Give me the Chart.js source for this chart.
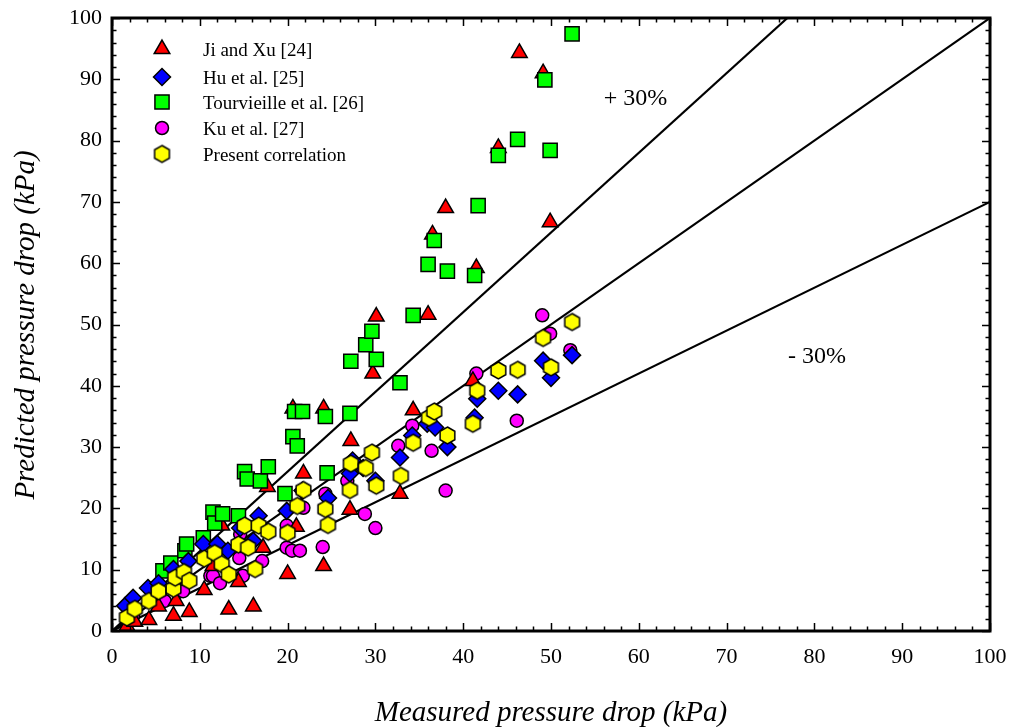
<!DOCTYPE html>
<html>
<head>
<meta charset="utf-8">
<title>Predicted vs measured pressure drop</title>
<script src="https://cdn.jsdelivr.net/npm/chart.js@4.4.1/dist/chart.umd.min.js"></script>
<style>
  html, body { margin: 0; padding: 0; background: #fff; }
  #chart { display: block; }
</style>
</head>
<body>
<canvas id="chart" width="1011" height="727"></canvas>
<script>
// measured pressure drop (x) / predicted pressure drop (y), kPa
const jiXuX = [1.7, 2.6, 4.2, 5.3, 7.0, 7.3, 8.8, 10.5, 11.5, 12.5, 13.3, 14.4, 16.1, 17.2, 17.7, 20.0, 20.6, 21.0, 21.8, 24.1, 24.1, 27.1, 27.2, 29.7, 30.1, 32.8, 34.3, 36.0, 36.5, 38.0, 41.1, 41.5, 44.0, 46.4, 49.1, 49.9];
const jiXuY = [0.8, 1.5, 1.8, 4.0, 2.5, 4.9, 3.1, 6.7, 10.6, 17.2, 3.5, 8.0, 4.0, 13.6, 23.5, 9.3, 36.3, 17.0, 25.7, 36.3, 10.6, 19.8, 31.0, 42.0, 51.3, 22.4, 36.0, 51.6, 64.7, 69.0, 40.8, 59.2, 78.8, 94.3, 91.0, 66.7];

const huX = [1.5, 2.4, 4.1, 5.3, 7.0, 8.7, 10.4, 12.0, 13.2, 14.6, 16.1, 16.7, 19.9, 21.7, 24.6, 27.1, 27.4, 28.6, 30.0, 32.8, 34.2, 35.9, 36.8, 38.2, 41.3, 41.6, 44.0, 46.2, 49.1, 50.0, 52.4];
const huY = [4.1, 5.4, 7.0, 7.8, 10.1, 11.4, 14.2, 14.2, 13.1, 16.8, 14.7, 18.8, 19.6, 22.9, 21.7, 25.7, 27.8, 26.6, 24.5, 28.3, 31.9, 33.8, 33.2, 30.0, 34.8, 37.9, 39.2, 38.6, 44.1, 41.3, 45.0];

const tourX = [5.8, 6.7, 8.3, 8.5, 10.4, 11.5, 11.7, 12.6, 14.4, 15.1, 15.4, 16.9, 17.8, 19.7, 20.6, 20.8, 21.1, 21.7, 24.3, 24.5, 27.1, 27.2, 28.9, 29.6, 30.1, 32.8, 34.3, 36.0, 36.7, 38.2, 41.3, 41.7, 44.0, 46.2, 49.3, 49.9, 52.4];
const tourY = [9.8, 11.1, 13.1, 14.2, 15.2, 19.4, 17.6, 19.1, 18.8, 26.0, 24.8, 24.5, 26.8, 22.4, 31.7, 35.8, 30.2, 35.8, 35.0, 25.8, 35.5, 44.0, 46.7, 48.9, 44.3, 40.5, 51.5, 59.8, 63.7, 58.7, 58.0, 69.4, 77.6, 80.2, 89.9, 78.4, 97.4];

const kuX = [2.4, 6.0, 8.1, 11.2, 11.5, 12.3, 14.5, 14.6, 14.9, 15.4, 17.1, 19.9, 19.9, 20.5, 21.4, 21.8, 24.0, 24.3, 26.8, 28.8, 30.0, 32.6, 34.2, 36.4, 38.0, 41.5, 46.1, 49.0, 49.9, 52.2];
const kuY = [2.5, 4.9, 6.5, 9.0, 9.0, 7.8, 11.9, 15.8, 9.0, 13.6, 11.4, 13.6, 17.2, 13.1, 13.1, 20.1, 13.7, 22.4, 24.5, 19.1, 16.8, 30.2, 33.5, 29.4, 22.9, 42.0, 34.3, 51.5, 48.5, 45.8];

const presentX = [1.7, 2.6, 4.2, 5.3, 7.0, 7.2, 8.2, 8.8, 10.5, 11.7, 12.5, 13.3, 14.4, 15.1, 15.5, 16.3, 16.7, 17.8, 20.0, 21.1, 21.8, 24.3, 24.6, 27.1, 27.2, 28.9, 29.6, 30.1, 32.9, 34.3, 36.1, 36.7, 38.2, 41.1, 41.6, 44.0, 46.2, 49.1, 50.0, 52.4];
const presentY = [2.2, 3.6, 4.9, 6.5, 6.9, 8.7, 9.6, 8.2, 11.8, 12.7, 10.9, 9.2, 14.1, 17.2, 13.6, 10.1, 17.2, 16.2, 16.0, 20.4, 23.0, 19.9, 17.3, 23.0, 27.3, 26.6, 29.1, 23.7, 25.3, 30.7, 34.8, 35.8, 31.9, 33.8, 39.2, 42.5, 42.6, 47.8, 43.0, 50.4];

// predicted = ratio * measured
const bandRatios = [1.3, 1.0, 0.7];
const bandLabels = ['+ 30%', '- 30%'];
const axisTicks = [0, 10, 20, 30, 40, 50, 60, 70, 80, 90, 100];

const seriesNames = ['Ji and Xu [24]', 'Hu et al. [25]', 'Tourvieille et al. [26]', 'Ku et al. [27]', 'Present correlation'];

const SERIF = '"Liberation Serif", "Times New Roman", serif';

function pts(xs, ys) {
  return xs.map((x, i) => ({ x: x, y: ys[i] }));
}

// yellow hexagon marker (Chart.js has no hexagon point style)
function makeHexagon(r) {
  const c = document.createElement('canvas');
  const w = Math.ceil(2 * r * Math.cos(Math.PI / 6)) + 4;
  const h = Math.ceil(2 * r) + 4;
  c.width = w;
  c.height = h;
  const g = c.getContext('2d');
  g.beginPath();
  for (let k = 0; k < 6; k++) {
    const a = -Math.PI / 2 + k * Math.PI / 3;
    const px = w / 2 + r * Math.cos(a);
    const py = h / 2 + r * Math.sin(a);
    if (k === 0) g.moveTo(px, py); else g.lineTo(px, py);
  }
  g.closePath();
  g.fillStyle = '#ffff00';
  g.fill();
  g.lineWidth = 1.5;
  g.strokeStyle = '#000';
  g.stroke();
  return c;
}
const hexagon = makeHexagon(8.5);

const markerStyles = [
  { pointStyle: 'triangle', radius: 9, color: '#ff0000' },
  { pointStyle: 'rectRot', radius: 8.5, color: '#0000ff' },
  { pointStyle: 'rect', radius: 10, color: '#00ff00' },
  { pointStyle: 'circle', radius: 6.5, color: '#ff00ff' },
  { pointStyle: hexagon, radius: 8, color: '#ffff00' }
];

const seriesData = [
  pts(jiXuX, jiXuY),
  pts(huX, huY),
  pts(tourX, tourY),
  pts(kuX, kuY),
  pts(presentX, presentY)
];
// drawing order: circles at the bottom, hexagons on top
const drawOrder = [3, 1, 2, 4, 0];

const datasets = seriesData.map((d, i) => ({
  label: seriesNames[i],
  data: d,
  pointStyle: markerStyles[i].pointStyle,
  pointRadius: markerStyles[i].radius,
  backgroundColor: markerStyles[i].color,
  borderColor: '#000',
  pointBorderWidth: 1.5,
  showLine: false,
  order: drawOrder[i]
}));

bandRatios.forEach((r, i) => {
  const xEnd = Math.min(100, 100 / r);
  datasets.push({
    label: 'band' + i,
    data: [{ x: 0, y: 0 }, { x: xEnd, y: r * xEnd }],
    showLine: true,
    borderColor: '#000',
    borderWidth: 2.2,
    pointRadius: 0,
    fill: false,
    order: 10
  });
});

function drawLegendMarker(ctx, i, x, y) {
  const s = markerStyles[i];
  if (s.pointStyle === hexagon) {
    ctx.drawImage(hexagon, x - hexagon.width / 2, y - hexagon.height / 2);
    return;
  }
  const r = s.radius;
  ctx.beginPath();
  if (s.pointStyle === 'triangle') {
    for (let k = 0; k < 3; k++) {
      const a = k * 2 * Math.PI / 3;
      const px = x + Math.sin(a) * r, py = y - Math.cos(a) * r;
      if (k === 0) ctx.moveTo(px, py); else ctx.lineTo(px, py);
    }
    ctx.closePath();
  } else if (s.pointStyle === 'rectRot') {
    ctx.moveTo(x - r, y); ctx.lineTo(x, y - r); ctx.lineTo(x + r, y); ctx.lineTo(x, y + r);
    ctx.closePath();
  } else if (s.pointStyle === 'rect') {
    const h = r * Math.SQRT1_2;
    ctx.rect(x - h, y - h, 2 * h, 2 * h);
  } else {
    ctx.arc(x, y, r, 0, 2 * Math.PI);
  }
  ctx.fillStyle = s.color;
  ctx.fill();
  ctx.lineWidth = 1.5;
  ctx.strokeStyle = '#000';
  ctx.stroke();
}

const framePlugin = {
  id: 'frame',
  afterDatasetsDraw(chart) {
    const ctx = chart.ctx;
    const a = chart.chartArea;
    const xs = chart.scales.x, ys = chart.scales.y;
    ctx.save();
    ctx.strokeStyle = '#000';
    // inward ticks on all four sides, major every 10, minor every 2
    ctx.lineWidth = 1.5;
    ctx.beginPath();
    for (let v = 0; v <= 100; v += 2) {
      const len = v % 10 === 0 ? 8 : 4.5;
      const px = Math.round(xs.getPixelForValue(v)) + 0.5;
      const py = Math.round(ys.getPixelForValue(v)) + 0.5;
      ctx.moveTo(px, a.bottom); ctx.lineTo(px, a.bottom - len);
      ctx.moveTo(px, a.top); ctx.lineTo(px, a.top + len);
      ctx.moveTo(a.left, py); ctx.lineTo(a.left + len, py);
      ctx.moveTo(a.right, py); ctx.lineTo(a.right - len, py);
    }
    ctx.stroke();
    ctx.lineWidth = 3;
    ctx.strokeRect(a.left, a.top, a.right - a.left, a.bottom - a.top);

    // band labels
    ctx.fillStyle = '#000';
    ctx.font = '24px ' + SERIF;
    ctx.textBaseline = 'alphabetic';
    ctx.textAlign = 'left';
    ctx.fillText(bandLabels[0], xs.getPixelForValue(56.0), ys.getPixelForValue(85.8));
    ctx.fillText(bandLabels[1], xs.getPixelForValue(77.0), ys.getPixelForValue(43.7));

    // legend inside the plot
    const rows = [49, 77, 102, 128, 154];
    ctx.font = '19px ' + SERIF;
    ctx.textBaseline = 'middle';
    seriesNames.forEach((name, i) => {
      const y = rows[i];
      drawLegendMarker(ctx, i, 162, y);
      ctx.fillStyle = '#000';
      ctx.fillText(name, 203, y + 2);
    });

    // axis titles
    ctx.font = 'italic 29px ' + SERIF;
    ctx.textAlign = 'center';
    ctx.textBaseline = 'alphabetic';
    ctx.fillText('Measured pressure drop (kPa)', 551, 721);
    ctx.translate(34, 325);
    ctx.rotate(-Math.PI / 2);
    ctx.fillText('Predicted pressure drop (kPa)', 0, 0);
    ctx.restore();
  }
};

const tickFont = { family: SERIF, size: 22 };

new Chart(document.getElementById('chart'), {
  type: 'scatter',
  data: { datasets: datasets },
  options: {
    responsive: false,
    animation: false,
    layout: { padding: { top: 18, right: 21, left: 0, bottom: 0 } },
    plugins: { legend: { display: false }, tooltip: { enabled: false } },
    scales: {
      x: {
        type: 'linear',
        min: 0,
        max: 100,
        afterBuildTicks: s => { s.ticks = axisTicks.map(v => ({ value: v })); },
        afterFit: s => { s.height = 96; s.paddingLeft = 0; s.paddingRight = 0; },
        grid: { display: false, drawTicks: false },
        border: { display: false },
        ticks: { font: tickFont, color: '#000', padding: 13, maxRotation: 0 }
      },
      y: {
        type: 'linear',
        min: 0,
        max: 100,
        afterBuildTicks: s => { s.ticks = axisTicks.map(v => ({ value: v })); },
        afterFit: s => { s.width = 112; s.paddingTop = 0; s.paddingBottom = 0; },
        grid: { display: false, drawTicks: false },
        border: { display: false },
        ticks: { font: tickFont, color: '#000', padding: 10 }
      }
    }
  },
  plugins: [framePlugin]
});
</script>
</body>
</html>
